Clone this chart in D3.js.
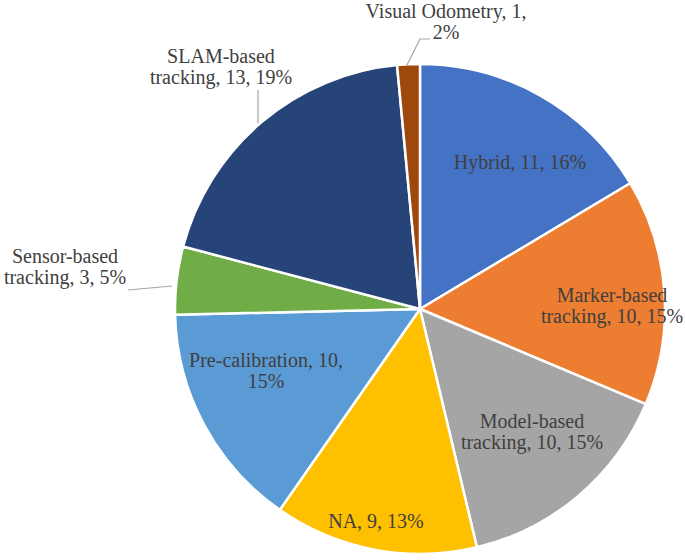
<!DOCTYPE html>
<html><head><meta charset="utf-8">
<script src="https://cdn.jsdelivr.net/npm/d3@7"></script>
<style>body{margin:0;background:#fff}</style>
</head><body>
<svg id="c" width="685" height="560"></svg>
<script>
const categories = ["Hybrid","Marker-based tracking","Model-based tracking","NA","Pre-calibration","Sensor-based tracking","SLAM-based tracking","Visual Odometry"];
const values = [11,10,10,9,10,3,13,1];
const percents = ["16%","15%","15%","13%","15%","5%","19%","2%"];
const colors = ["#4472C4","#ED7D31","#A5A5A5","#FFC000","#5B9BD5","#70AD47","#264478","#9E480E"];

// label layout (text lines and anchor position, leader flag)
const labelLines = [
  ["Hybrid, 11, 16%"],
  ["Marker-based","tracking, 10, 15%"],
  ["Model-based","tracking, 10, 15%"],
  ["NA, 9, 13%"],
  ["Pre-calibration, 10,","15%"],
  ["Sensor-based","tracking, 3, 5%"],
  ["SLAM-based","tracking, 13, 19%"],
  ["Visual Odometry, 1,","2%"]
];
const labelAnchor = [[520,169],[612,302],[532,428],[376,528],[266,367],[65,263],[221,63],[446,18]];
const leaders = [null,null,null,null,null,[[172,286],[128,290]],[[258,123],[258,90]],[[407,65],[420,39],[430,39]]];

const svg = d3.select("#c");
const cx = 420, cy = 309, R = 245;
const g = svg.append("g").attr("transform",`translate(${cx},${cy})`);
const pie = d3.pie().sort(null).value(d=>d)(values);
const arc = d3.arc().innerRadius(0).outerRadius(R);
const color = d3.scaleOrdinal().domain(categories).range(colors);

g.selectAll("path.s").data(pie).join("path")
  .attr("class","s")
  .attr("d",arc)
  .attr("fill",(d,i)=>color(categories[i]))
  .attr("stroke","#fff").attr("stroke-width",2.5).attr("stroke-linejoin","round");

const line = d3.line();
leaders.forEach((pts,i)=>{
  if(!pts) return;
  svg.append("path").attr("d",line(pts)).attr("fill","none")
    .attr("stroke","#A6A6A6").attr("stroke-width",1.2);
});

labelLines.forEach((lines,i)=>{
  const t = svg.append("text")
    .attr("text-anchor","middle")
    .attr("font-family","'Liberation Serif','Times New Roman',serif")
    .attr("font-size",20).attr("fill","#404040");
  lines.forEach((s,j)=>{
    t.append("tspan").attr("x",labelAnchor[i][0]).attr("y",labelAnchor[i][1]+j*21).text(s);
  });
});
</script>
</body></html>
